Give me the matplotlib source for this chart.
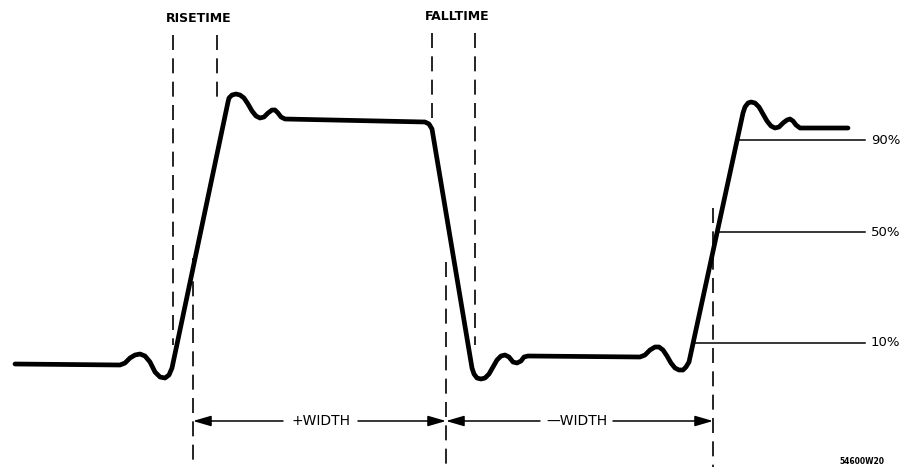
'''
pulse parameter diagram: rise/fall time and +/- width
'''
import numpy as np
import matplotlib.pyplot as plt

# waveform trace, picture pixel coordinates (y grows downward)
wave_x = [15, 120, 125, 130, 135, 140, 145, 150, 155, 160, 165, 169, 172,
          228, 229, 232, 236, 240, 244, 248, 252, 256, 260, 264, 268, 272, 275, 278, 281, 285,
          425, 429, 432,
          472, 474, 477, 481, 485, 489, 493, 497, 501, 505, 509, 513, 517, 521, 524, 528,
          640, 645, 650, 655, 659, 663, 667, 671, 675, 679, 683, 686, 689,
          743, 745, 748, 751, 755, 759, 763, 767, 771, 775, 779, 783, 787, 790, 793, 796, 800,
          848]
wave_y = [364, 365, 363, 358, 355, 354, 356, 362, 372, 377, 378, 375, 368,
          102, 98, 95, 94, 95, 98, 104, 111, 116, 118, 117, 113, 110, 110, 113, 117, 119,
          122, 124, 129,
          368, 374, 378, 379, 378, 374, 367, 360, 356, 355, 357, 362, 363, 361, 357, 356,
          357, 355, 350, 347, 347, 350, 356, 363, 368, 370, 370, 367, 362,
          113, 107, 103, 102, 103, 107, 114, 121, 126, 128, 127, 123, 120, 119, 121, 125, 128,
          128]

# reference levels: label, y, x where the trace crosses it
level_names = ['90%', '50%', '10%']
level_y = [140, 232, 343]
level_x0 = [738, 718, 695]
level_x1 = 865

# dashed markers: x, top, bottom
mark_x = [173, 217, 432, 475, 193, 446, 713]
mark_top = [35, 35, 33, 33, 258, 262, 208]
mark_bot = [345, 105, 122, 345, 467, 467, 467]

# width arrows: tail x, tip x
arrow_tail = [283, 358, 540, 613]
arrow_tip = [193, 446, 446, 713]
arrow_y = 421

fig = plt.figure(figsize=(9.0, 4.67), dpi=100)
ax = fig.add_axes([0, 0, 1, 1])
ax.set_xlim(0, 900)
ax.set_ylim(467, 0)
ax.axis('off')

ax.plot(wave_x, wave_y, c='k', lw=3.4, solid_joinstyle='round', solid_capstyle='round')

for name, y, x0 in zip(level_names, level_y, level_x0):
    ax.plot([x0, level_x1], [y, y], c='k', lw=1.1)
    ax.text(871, y, name, fontsize=9.5, va='center', ha='left', family='DejaVu Sans')

for x, t, b in zip(mark_x, mark_top, mark_bot):
    ax.plot([x, x], [t, b], c='k', lw=1.2, dashes=(9, 5))

for t, h in zip(arrow_tail, arrow_tip):
    ax.annotate('', xy=(h, arrow_y), xytext=(t, arrow_y),
                arrowprops=dict(arrowstyle='-|>,head_length=1.1,head_width=0.32',
                                color='k', lw=1.1, shrinkA=0, shrinkB=0,
                                mutation_scale=10))

ax.text(321, arrow_y, '+WIDTH', fontsize=10, ha='center', va='center')
ax.text(577, arrow_y, '\u2014WIDTH', fontsize=10, ha='center', va='center')
ax.text(199, 18, 'RISETIME', fontsize=9, fontweight='bold', ha='center', va='center')
ax.text(457, 17, 'FALLTIME', fontsize=9, fontweight='bold', ha='center', va='center')
ax.text(862, 462, '54600W20', fontsize=5.5, fontweight='bold', ha='center', va='center')

fig.savefig('out.png', dpi=100)
